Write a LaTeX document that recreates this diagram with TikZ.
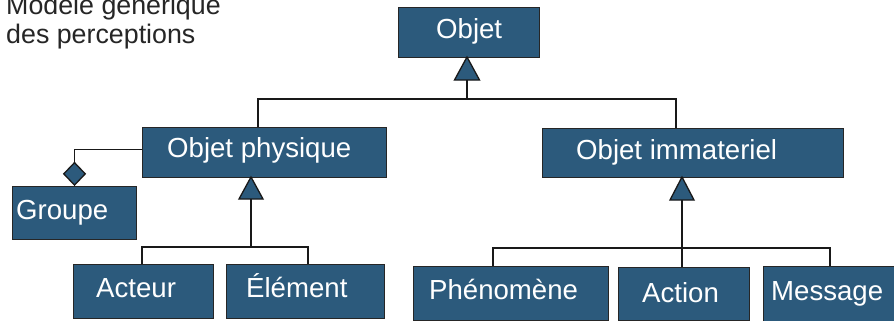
\documentclass[tikz,border=0pt]{standalone}
\usepackage{fontspec}
\setmainfont{Liberation Sans}
\usetikzlibrary{shapes.geometric}
\definecolor{boxblue}{HTML}{2C5A7C}
\begin{document}
\begin{tikzpicture}[x=1pt,y=-1pt,
  box/.style={draw=black!85, line width=1pt, fill=boxblue, inner sep=0pt, anchor=north west},
  lbl/.style={text=white, anchor=base west, inner sep=0pt, font=\fontsize{27.6}{31}\selectfont},
  ttl/.style={text=black!85, anchor=base west, inner sep=0pt, font=\fontsize{26.8}{30}\selectfont},
  conn/.style={draw=black!90, line width=1.5pt},
  tri/.style={draw=black!90, line width=1.3pt, fill=boxblue, line join=miter}]
\useasboundingbox[fill=white] (0,0) rectangle (894,321);

% title
\node[ttl] (t1) at (6,15) {Modèle générique};
\node[ttl] (t2) at (6,44) {des perceptions};

% class boxes
\node[box, minimum width=141, minimum height=50] (obj)  at (398,7)   {};
\node[box, minimum width=244, minimum height=50] (op)   at (142,127) {};
\node[box, minimum width=301, minimum height=49] (oi)   at (542,128) {};
\node[box, minimum width=124, minimum height=53] (grp)  at (12,186)  {};
\node[box, minimum width=140, minimum height=54] (act)  at (73,264)  {};
\node[box, minimum width=158, minimum height=54] (ele)  at (226,264) {};
\node[box, minimum width=195, minimum height=54] (phe)  at (413,266) {};
\node[box, minimum width=131, minimum height=53] (actn) at (618,267) {};
\node[box, minimum width=140, minimum height=55] (msg)  at (763,266) {};

% labels
\node[lbl] (objl)  at (436,39)  {Objet};
\node[lbl] (opl)   at (167,157) {Objet physique};
\node[lbl] (oil)   at (576,159) {Objet immateriel};
\node[lbl] (grpl)  at (16,219)  {Groupe};
\node[lbl] (actl)  at (96,297)  {Acteur};
\node[lbl] (elel)  at (246,297) {Élément};
\node[lbl] (phel)  at (429,299) {Phénomène};
\node[lbl] (actnl) at (642,302) {Action};
\node[lbl] (msgl)  at (771,300) {Message};

% generalisation: Objet
\coordinate (objtip) at (467,57);
\coordinate (objbase) at (467,80);
\coordinate (busL) at (258,99);
\coordinate (busR) at (676,99);
\coordinate (busM) at (467,99);
\draw[conn] (objbase) -- (busM);
\draw[conn] (busL |- op.north) -- (busL) -- (busR) -- (busR |- oi.north);
\draw[tri] (objtip) -- ++(-12.5,23) -- ++(25,0) -- cycle;

% generalisation: Objet physique
\coordinate (optip) at (251,177);
\coordinate (opbase) at (251,199);
\coordinate (busAL) at (142,247);
\coordinate (busAR) at (308,247);
\coordinate (busAM) at (251,247);
\draw[conn] (opbase) -- (busAM);
\draw[conn] (busAL |- act.north) -- (busAL) -- (busAR) -- (busAR |- ele.north);
\draw[tri] (optip) -- ++(-12,22) -- ++(24,0) -- cycle;

% generalisation: Objet immateriel
\coordinate (oitip) at (682,177);
\coordinate (oibase) at (682,200);
\coordinate (busBL) at (493,248);
\coordinate (busBR) at (830,248);
\draw[conn] (oibase) -- (oibase |- actn.north);
\draw[conn] (busBL |- phe.north) -- (busBL) -- (busBR) -- (busBR |- msg.north);
\draw[tri] (oitip) -- ++(-12,23) -- ++(24,0) -- cycle;

% aggregation: Groupe
\node[diamond, draw=black!90, line width=1.3pt, fill=boxblue, inner sep=0pt,
      minimum width=22, minimum height=23, anchor=south] (agg) at (grp.north) {};
\draw[conn] (agg.north) |- ([yshift=3pt]op.west);
\end{tikzpicture}
\end{document}
